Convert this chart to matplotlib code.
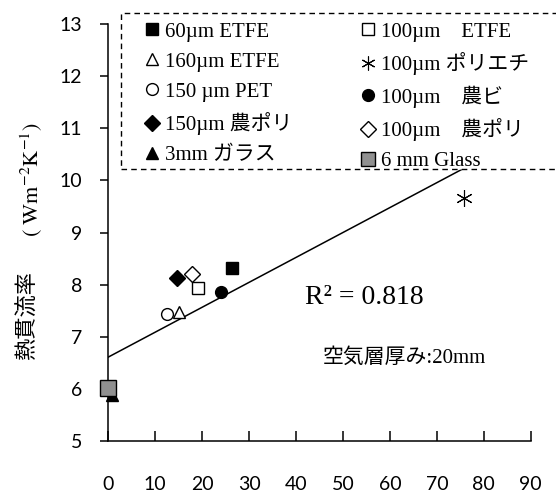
import matplotlib
matplotlib.use("Agg")
import matplotlib.pyplot as plt
from matplotlib.patches import Rectangle
from matplotlib.lines import Line2D

plt.rcParams['font.family'] = ['Liberation Serif', 'Noto Sans CJK JP']
plt.rcParams['mathtext.fontset'] = 'stix'

# 試料ごとの日射透過関連値 (x) と熱貫流率 (y)
labels = ["60µm ETFE", "100µm\u3000ETFE", "160µm ETFE", "100µm ポリエチ",
          "150 µm PET", "100µm\u3000農ビ", "150µm 農ポリ", "100µm\u3000農ポリ",
          "3mm ガラス", "6 mm Glass"]
x_vals = [26.4, 19.1, 15.1, 75.7, 12.5, 24.0, 14.7, 17.9, 0.85, 0.0]
y_vals = [8.31, 7.94, 7.48, 9.67, 7.43, 7.86, 8.12, 8.21, 5.88, 6.01]

# 近似直線 y = a x + b
trend_a = 0.0478
trend_b = 6.61
r2_text = "R² = 0.818"

x_ticks = list(range(0, 100, 10))
y_ticks = list(range(5, 14))

styles = [
    dict(marker='s', mfc='black', mec='black', ms=8),
    dict(marker='s', mfc='white', mec='black', ms=8, mew=1),
    dict(marker='^', mfc='white', mec='black', ms=9, mew=1),
    dict(marker=(6, 2, 0), mfc='black', mec='black', ms=12, mew=0.8),
    dict(marker='o', mfc='white', mec='black', ms=8.5, mew=1),
    dict(marker='o', mfc='black', mec='black', ms=8.5),
    dict(marker='D', mfc='black', mec='black', ms=8),
    dict(marker='D', mfc='white', mec='black', ms=8, mew=1),
    dict(marker='^', mfc='black', mec='black', ms=9),
    dict(marker='s', mfc='#909090', mec='black', ms=11, mew=1),
]

W, H = 556, 493
fig = plt.figure(figsize=(W / 100, H / 100), dpi=100)
ax = fig.add_axes([108.3 / W, 52 / H, 422.4 / W, 417 / H])

xs = [0, 90]
ax.plot(xs, [trend_a * v + trend_b for v in xs], color='black', lw=1.1, zorder=2)

handles = []
for xv, yv, lab, st in zip(x_vals, y_vals, labels, styles):
    ax.plot([xv], [yv], ls='none', clip_on=False, zorder=3, **st)
    leg_st = dict(st)
    leg_st['ms'] = min(st['ms'], 10)
    handles.append(Line2D([], [], ls='none', label=lab, **leg_st))

ax.set_xlim(0, 90)
ax.set_ylim(5, 13)
ax.set_xticks(x_ticks)
ax.set_yticks(y_ticks)
for s in ['top', 'right']:
    ax.spines[s].set_visible(False)
for s in ['left', 'bottom']:
    ax.spines[s].set_linewidth(1.1)

ax.tick_params(axis='x', direction='in', length=7, width=1.1, pad=25)
ax.tick_params(axis='y', direction='out', length=6, width=1.1, pad=13)
for t in ax.get_xticklabels() + ax.get_yticklabels():
    t.set_family('Lato')
    t.set_fontsize(14)

# 縦軸ラベル: 日本語部分と単位部分を分けて配置
fig.text(27 / W, (H - 360) / H, '熱貫流率', rotation=90, ha='center', va='bottom',
         fontsize=16, family='Noto Sans CJK JP')
fig.text(32 / W, (H - 237) / H, r'$(\ \mathrm{Wm^{-2}K^{-1}})$', rotation=90,
         ha='center', va='bottom', fontsize=16)

ax.text(54.5, 7.76, r2_text, fontsize=20, ha='center', va='center')
ax.text(63, 6.59, '空気層厚み:20mm', fontsize=15, ha='center', va='center')

# 凡例枠 (破線)
box = Rectangle((121 / W, (H - 169) / H), 0.9, 156 / H, transform=fig.transFigure,
                facecolor='white', edgecolor='black', lw=1, ls=(0, (4, 3)),
                clip_on=False, zorder=4)
ax.add_patch(box)

col1 = [handles[i] for i in (0, 2, 4, 6, 8)]
col2 = [handles[i] for i in (1, 3, 5, 7, 9)]
leg_kw = dict(loc='upper left', frameon=False, fontsize=15, borderpad=0,
              borderaxespad=0, handlelength=0.6, handletextpad=0.3,
              labelspacing=0.5, bbox_transform=fig.transFigure)
leg1 = ax.legend(handles=col1, bbox_to_anchor=(146 / W, (H - 22) / H), **leg_kw)
leg1.set_zorder(5)
ax.add_artist(leg1)
leg2 = ax.legend(handles=col2, bbox_to_anchor=(362 / W, (H - 22) / H), **leg_kw)
leg2.set_zorder(5)

fig.savefig('out.png', dpi=100)
